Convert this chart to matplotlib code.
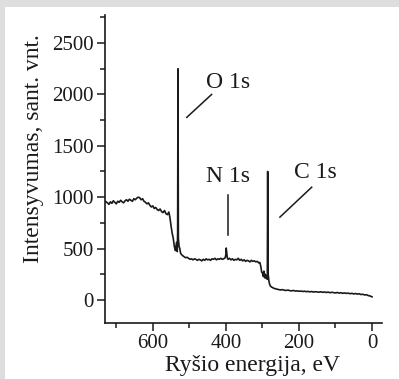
import numpy as np
import matplotlib
matplotlib.use('Agg')
import matplotlib.pyplot as plt
from matplotlib.patches import Rectangle

# XPS survey spectrum (binding energy in eV, intensity)

energy = [730, 724, 720, 716, 712, 708, 704, 700, 696, 692, 688, 684, 680, 676, 672,
          668, 664, 660, 656, 652, 648, 644, 640, 636, 632, 628, 624, 620, 616, 612,
          608, 604, 600, 596, 592, 588, 584, 580, 576, 572, 568, 564, 560, 556, 553,
          550, 547, 544, 541, 538, 535, 533, 532, 531, 530, 528, 526, 524, 521, 518,
          514, 510, 506, 502, 498, 494, 490, 486, 482, 478, 474, 470, 466, 462, 458,
          454, 450, 446, 442, 438, 434, 430, 426, 422, 418, 414, 410, 406, 402, 400,
          399, 398, 396, 394, 390, 386, 382, 378, 374, 370, 366, 362, 358, 354, 350,
          346, 342, 338, 334, 330, 326, 322, 318, 314, 310, 307, 304, 302, 300, 298,
          296, 294, 292, 290, 288, 286.5, 285.5, 284.5, 282, 280, 278, 275, 272, 268, 264,
          260, 255, 250, 245, 240, 235, 230, 225, 220, 215, 210, 205, 200, 195, 190,
          185, 180, 175, 170, 165, 160, 155, 150, 145, 140, 135, 130, 125, 120, 115,
          110, 105, 100, 95, 90, 85, 80, 75, 70, 65, 60, 55, 50, 45, 40,
          35, 30, 25, 20, 15, 10, 5, 0]
intensity = [960, 945, 930, 955, 940, 965, 950, 935, 960, 950, 970, 955, 945, 965, 975,
             960, 980, 970, 960, 985, 975, 990, 1000, 995, 975, 985, 960, 950, 935, 945,
             920, 905, 915, 890, 900, 880, 870, 885, 860, 850, 870, 840, 830, 855, 800,
             720, 650, 600, 520, 480, 560, 470, 650, 2250, 600, 520, 500, 455, 440, 430,
             420, 410, 415, 405, 395, 400, 390, 400, 395, 385, 395, 390, 380, 395, 385,
             400, 390, 395, 385, 400, 395, 405, 390, 400, 395, 405, 395, 400, 410, 440,
             505, 470, 410, 395, 405, 390, 400, 385, 395, 390, 405, 385, 395, 380, 390,
             375, 385, 380, 370, 385, 375, 380, 370, 375, 360, 365, 320, 270, 265, 230,
             280, 215, 250, 210, 230, 200, 1250, 260, 180, 150, 135, 125, 120, 112, 108,
             105, 100, 97, 100, 94, 92, 96, 90, 88, 92, 86, 88, 84, 86, 82,
             85, 80, 83, 78, 82, 76, 80, 78, 75, 79, 74, 77, 72, 76, 70,
             74, 71, 68, 72, 66, 70, 64, 68, 63, 66, 60, 64, 58, 62, 56,
             60, 52, 55, 48, 50, 42, 38, 30]

# peak labels: text position and leader line (data coords)
peak_names = ['O 1s', 'N 1s', 'C 1s']
label_pos = [(395, 2120), (395, 1205), (156, 1245)]
leader_x = [(507, 439), (395, 395), (252, 165)]
leader_y = [(1777, 2000), (1019, 631), (806, 1097)]

xticks = [600, 400, 200, 0]
yticks = [0, 500, 1000, 1500, 2000, 2500]

plt.rcParams['font.family'] = ['Liberation Serif', 'DejaVu Serif']
plt.rcParams['font.size'] = 15

ink = '#1a1a1a'

fig = plt.figure(figsize=(3.99, 3.79), dpi=100)
fig.patch.set_facecolor('#dedede')
fig.patches.append(Rectangle((5 / 399, 0), 1, 1 - 7 / 379, transform=fig.transFigure,
                             facecolor='white', edgecolor='none', zorder=-5))

ax = fig.add_axes([0.263, 0.148, 0.694, 0.812])
ax.set_zorder(2)
ax.set_facecolor('none')
ax.plot(energy, intensity, color=ink, lw=1.2)

for name, (tx, ty), lx, ly in zip(peak_names, label_pos, leader_x, leader_y):
    ax.plot(lx, ly, color=ink, lw=1.1)
    ax.text(tx, ty, name, ha='center', va='center', color=ink, fontsize=17)

ax.set_xlim(731, -27)
ax.set_ylim(-224, 2772)
ax.set_xticks(xticks)
ax.set_xticks([700, 500, 300, 100], minor=True)
ax.set_yticks(yticks)
ax.set_yticks([250, 750, 1250, 1750, 2250, 2750], minor=True)

for s in ['top', 'right']:
    ax.spines[s].set_visible(False)
for s in ['left', 'bottom']:
    ax.spines[s].set_linewidth(1.2)
    ax.spines[s].set_color(ink)

ax.tick_params(which='major', length=6, width=1.1, colors=ink, pad=2)
ax.tick_params(which='minor', length=3.5, width=1.1, colors=ink)

ax.set_xlabel('Ryšio energija, eV', color=ink, fontsize=17)
ax.set_ylabel('Intensyvumas, sant. vnt.', color=ink, fontsize=17)
ax.xaxis.set_label_coords(0.532, -0.103)
ax.yaxis.set_label_coords(-0.22, 0.565)

fig.savefig('out.png', dpi=100, facecolor=fig.get_facecolor())
